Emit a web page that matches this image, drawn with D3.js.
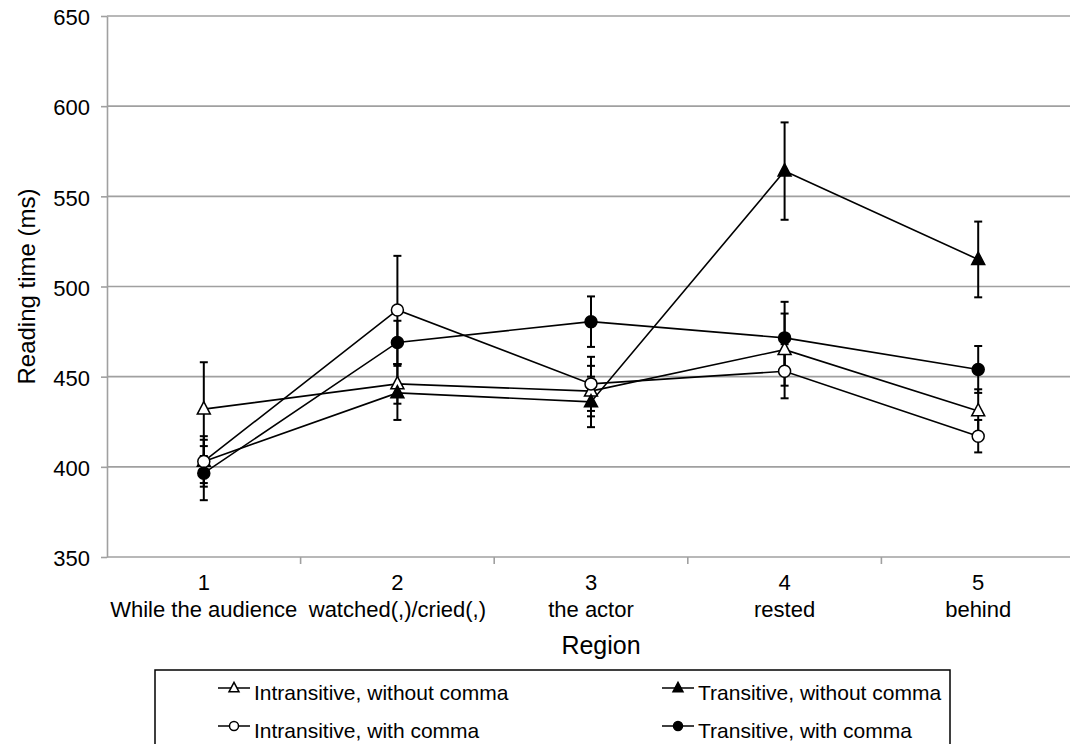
<!DOCTYPE html>
<html>
<head>
<meta charset="utf-8">
<script src="https://cdn.jsdelivr.net/npm/d3@7"></script>
<style>
  body { margin: 0; background: #fff; }
  svg { display: block; font-family: "Liberation Sans", Arial, sans-serif; }
</style>
</head>
<body>
<div id="chart"></div>
<script>
// Regions of the sentence
const regions = ['1', '2', '3', '4', '5'];
const regionWords = ['While the audience', 'watched(,)/cried(,)', 'the actor', 'rested', 'behind'];

// Mean reading times (ms) and standard errors per condition
const intransNoComma = [432, 446, 442, 465, 431];
const intransNoCommaErr = [26, 11, 14, 20, 12];
const transNoComma = [403, 441, 436, 564, 515];
const transNoCommaErr = [14, 15, 14, 27, 21];
const intransComma = [403, 487, 446, 453, 417];
const intransCommaErr = [12, 30, 15, 15, 9];
const transComma = [396.5, 469, 480.5, 471.5, 454];
const transCommaErr = [15, 12, 14, 20, 13];

const yTicks = [350, 400, 450, 500, 550, 600, 650];

const series = [
    { name: 'Intransitive, without comma', values: intransNoComma, err: intransNoCommaErr, shape: 'triangle', fill: '#fff' },
    { name: 'Transitive, without comma', values: transNoComma, err: transNoCommaErr, shape: 'triangle', fill: '#000' },
    { name: 'Intransitive, with comma', values: intransComma, err: intransCommaErr, shape: 'circle', fill: '#fff' },
    { name: 'Transitive, with comma', values: transComma, err: transCommaErr, shape: 'circle', fill: '#000' }
];

const width = 1070, height = 744;
const plotLeft = 107, plotRight = 1075, plotTop = 16, plotBottom = 557;

const svg = d3.select('#chart').append('svg')
    .attr('width', width)
    .attr('height', height);

const x = d3.scaleBand().domain(regions).range([plotLeft, plotRight]);
const y = d3.scaleLinear().domain([350, 650]).range([plotBottom, plotTop]);
const cx = r => x(r) + x.bandwidth() / 2;

// Gridlines
svg.append('g')
    .selectAll('line')
    .data(yTicks.slice(1))
    .enter().append('line')
    .attr('x1', plotLeft).attr('x2', plotRight)
    .attr('y1', d => y(d)).attr('y2', d => y(d))
    .attr('stroke', '#a0a0a0')
    .attr('stroke-width', 1.6);

// Y axis
const yAxis = svg.append('g')
    .attr('transform', `translate(${plotLeft},0)`)
    .call(d3.axisLeft(y).tickValues(yTicks).tickSize(6).tickPadding(11).tickSizeOuter(0));
yAxis.select('.domain').attr('stroke', '#a0a0a0').attr('stroke-width', 1.6);
yAxis.selectAll('.tick line').attr('stroke', '#a0a0a0').attr('stroke-width', 1.6);
yAxis.selectAll('.tick text')
    .attr('font-size', '22px')
    .attr('font-family', '"Liberation Sans", Arial, sans-serif')
    .attr('fill', '#000')
    .attr('dy', '0.4em');

// X axis line and band boundary ticks
svg.append('line')
    .attr('x1', plotLeft).attr('x2', plotRight)
    .attr('y1', plotBottom).attr('y2', plotBottom)
    .attr('stroke', '#a0a0a0')
    .attr('stroke-width', 1.6);

svg.append('g')
    .selectAll('line')
    .data(regions.slice(1))
    .enter().append('line')
    .attr('x1', d => x(d)).attr('x2', d => x(d))
    .attr('y1', plotBottom).attr('y2', plotBottom + 7)
    .attr('stroke', '#a0a0a0')
    .attr('stroke-width', 1.6);

const xLabels = svg.append('g')
    .selectAll('g')
    .data(regions)
    .enter().append('g');

xLabels.append('text')
    .attr('x', d => cx(d))
    .attr('y', 590)
    .attr('text-anchor', 'middle')
    .attr('font-size', '22px')
    .text(d => d);

xLabels.append('text')
    .attr('x', d => cx(d))
    .attr('y', 617)
    .attr('text-anchor', 'middle')
    .attr('font-size', '22px')
    .text((d, i) => regionWords[i]);

// Axis titles
svg.append('text')
    .attr('x', 601)
    .attr('y', 654)
    .attr('text-anchor', 'middle')
    .attr('font-size', '25px')
    .text('Region');

svg.append('text')
    .attr('transform', `translate(35,${(plotTop + plotBottom) / 2}) rotate(-90)`)
    .attr('text-anchor', 'middle')
    .attr('font-size', '24px')
    .text('Reading time (ms)');

// Marker drawing helper
function drawMarker(sel, shape, fill, size) {
    if (shape === 'circle') {
        sel.append('circle')
            .attr('r', size / 2)
            .attr('fill', fill)
            .attr('stroke', '#000')
            .attr('stroke-width', 1.5);
    } else {
        const h = size * 0.95, w = size;
        sel.append('path')
            .attr('d', `M0,${-h * 0.6}L${w / 2},${h * 0.4}L${-w / 2},${h * 0.4}Z`)
            .attr('fill', fill)
            .attr('stroke', '#000')
            .attr('stroke-width', 1.5);
    }
}

const plot = svg.append('g');

// Error bars
series.forEach(s => {
    const g = plot.append('g');
    s.values.forEach((v, i) => {
        const xp = cx(regions[i]);
        const hi = y(v + s.err[i]), lo = y(v - s.err[i]);
        g.append('line')
            .attr('x1', xp).attr('x2', xp)
            .attr('y1', hi).attr('y2', lo)
            .attr('stroke', '#000').attr('stroke-width', 2);
        [hi, lo].forEach(yy => {
            g.append('line')
                .attr('x1', xp - 4).attr('x2', xp + 4)
                .attr('y1', yy).attr('y2', yy)
                .attr('stroke', '#000').attr('stroke-width', 2);
        });
    });
});

// Lines
const line = d3.line()
    .x((d, i) => cx(regions[i]))
    .y(d => y(d));

series.forEach(s => {
    plot.append('path')
        .datum(s.values)
        .attr('d', line)
        .attr('fill', 'none')
        .attr('stroke', '#000')
        .attr('stroke-width', 1.6);
});

// Markers
series.forEach(s => {
    plot.append('g')
        .selectAll('g')
        .data(s.values)
        .enter().append('g')
        .attr('transform', (d, i) => `translate(${cx(regions[i])},${y(d)})`)
        .each(function () { drawMarker(d3.select(this), s.shape, s.fill, s.shape === 'circle' ? 12 : 13); });
});

// Legend
const legend = svg.append('g');
legend.append('rect')
    .attr('x', 155).attr('y', 670)
    .attr('width', 795).attr('height', 100)
    .attr('fill', '#fff')
    .attr('stroke', '#000')
    .attr('stroke-width', 1.5);

const legendPos = [
    { x: 218, y: 688 },
    { x: 662, y: 688 },
    { x: 218, y: 726 },
    { x: 662, y: 726 }
];

series.forEach((s, i) => {
    const p = legendPos[i];
    const item = legend.append('g').attr('transform', `translate(${p.x},${p.y})`);
    item.append('line')
        .attr('x1', 0).attr('x2', 32)
        .attr('y1', 0).attr('y2', 0)
        .attr('stroke', '#000').attr('stroke-width', 1.5);
    const m = item.append('g').attr('transform', 'translate(16,0)');
    drawMarker(m, s.shape, s.fill, s.shape === 'circle' ? 9 : 10);
    item.append('text')
        .attr('x', 36)
        .attr('y', 12)
        .attr('font-size', '21px')
        .text(s.name);
});
</script>
</body>
</html>
